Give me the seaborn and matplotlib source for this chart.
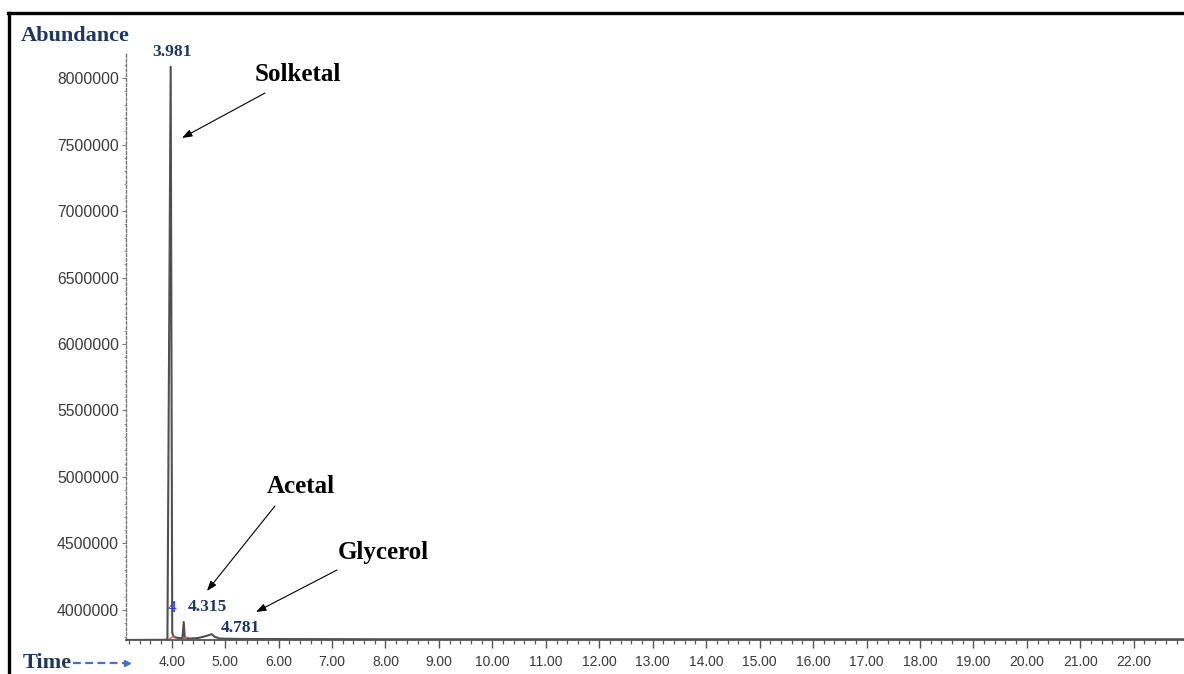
import matplotlib
matplotlib.use("Agg")
import matplotlib.pyplot as plt
from matplotlib.lines import Line2D
from matplotlib.ticker import MultipleLocator, FuncFormatter
import seaborn as sns
import pandas as pd

# Total ion chromatogram trace (retention time in min, abundance)
time_min = [3.145, 3.90, 3.92, 3.981, 4.01, 4.03, 4.06, 4.12, 4.20, 4.225, 4.245,
            4.35, 4.50, 4.65, 4.75, 4.80, 4.90, 5.30, 8.00, 22.94]
abundance = [3774500, 3776000, 3790000, 8085000, 3830000, 3805000, 3795000, 3790000,
             3788000, 3910000, 3790000, 3785000, 3790000, 3805000, 3818000, 3800000,
             3785000, 3782000, 3780000, 3780000]

# Integration baselines (red) drawn under the first two peaks
base1_t = [3.875, 4.06]
base1_y = [3767000, 3804000]
base2_t = [4.205, 4.30]
base2_y = [3782000, 3797000]

# Peak retention-time labels
peak_labels = ["3.981", "4.315", "4.781"]
peak_label_t = [4.00, 4.66, 5.277]
peak_label_y = [8196000, 4022000, 3865000]

# Compound annotations: name, text position, arrow tail, arrow head
compounds = ["Solketal", "Acetal", "Glycerol"]
comp_text_t = [6.363, 6.419, 7.954]
comp_text_y = [8030000, 4925000, 4429000]
arrow_tail_t = [5.745, 5.932, 7.094]
arrow_tail_y = [7887000, 4782000, 4301000]
arrow_head_t = [4.193, 4.66, 5.577]
arrow_head_y = [7549000, 4143000, 3985000]

y_ticks = [4000000, 4500000, 5000000, 5500000, 6000000, 6500000, 7000000, 7500000, 8000000]
x_ticks = [4.0, 5.0, 6.0, 7.0, 8.0, 9.0, 10.0, 11.0, 12.0, 13.0, 14.0, 15.0,
           16.0, 17.0, 18.0, 19.0, 20.0, 21.0, 22.0]

sns.set_style("white")
plt.rcParams["font.family"] = ["Liberation Sans", "DejaVu Sans"]

NAVY = "#1c3766"
SERIF = ["Liberation Serif", "DejaVu Serif"]

fig = plt.figure(figsize=(11.84, 6.74), dpi=100)
ax = fig.add_axes([126 / 1184, 1 - 640 / 674, 1 - 126 / 1184, (640 - 53) / 674])

df = pd.DataFrame({"time": time_min, "abundance": abundance})
sns.lineplot(data=df, x="time", y="abundance", ax=ax, color="#505050",
             linewidth=1.5, estimator=None, sort=False)
ax.plot(base1_t, base1_y, color="#e06666", lw=1.1, solid_capstyle="butt")
ax.plot(base2_t, base2_y, color="#e06666", lw=1.1, solid_capstyle="butt")

ax.set_xlim(3.145, 22.94)
ax.set_ylim(3774400, 8188000)
ax.set_xlabel("")
ax.set_ylabel("")

ax.set_xticks(x_ticks)
ax.xaxis.set_minor_locator(MultipleLocator(0.2))
ax.xaxis.set_major_formatter(FuncFormatter(lambda v, p: f"{v:.2f}"))
ax.set_yticks(y_ticks)
ax.yaxis.set_minor_locator(MultipleLocator(100000))
ax.yaxis.set_major_formatter(FuncFormatter(lambda v, p: f"{int(v)}"))

ax.tick_params(axis="x", which="major", direction="out", length=6, width=1,
               color="#555555", labelsize=10, labelcolor="#3a3a3a", pad=5)
ax.tick_params(axis="x", which="minor", direction="out", length=3, width=0.9,
               color="#555555")
ax.tick_params(axis="y", which="major", direction="out", length=3, width=0.8,
               color="#777777", labelsize=11.3, labelcolor="#3a3a3a", pad=2)
ax.tick_params(axis="y", which="minor", direction="out", length=1.5, width=0.6,
               color="#888888")
ax.tick_params(bottom=True, left=True, which="both")

for side in ("top", "right"):
    ax.spines[side].set_visible(False)
ax.spines["bottom"].set_color("#555555")
ax.spines["bottom"].set_linewidth(1.3)
ax.spines["left"].set_color("#777777")
ax.spines["left"].set_linewidth(1.0)
ax.spines["left"].set_linestyle((0, (2, 1.5)))

# Peak labels
for lab, t, y in zip(peak_labels, peak_label_t, peak_label_y):
    ax.text(t, y, lab, ha="center", va="center", family=SERIF, fontweight="bold",
            fontsize=12.5, color=NAVY, clip_on=False)
ax.text(4.006, 4015000, "4", ha="center", va="center", family=SERIF,
        fontsize=12.5, color="#2a2aff")

# Compound names with arrows
for name, tx, ty, t0, y0, t1, y1 in zip(compounds, comp_text_t, comp_text_y,
                                        arrow_tail_t, arrow_tail_y,
                                        arrow_head_t, arrow_head_y):
    ax.text(tx, ty, name, ha="center", va="center", family=SERIF,
            fontweight="bold", fontsize=18, color="black")
    ax.annotate("", xy=(t1, y1), xytext=(t0, y0),
                arrowprops=dict(arrowstyle="-|>,head_length=0.6,head_width=0.22",
                                color="black", lw=0.8, shrinkA=0, shrinkB=0))

# Axis titles
fig.text(75 / 1184, 1 - 36 / 674, "Abundance", ha="center", va="center",
         family=SERIF, fontweight="bold", fontsize=16, color=NAVY)
fig.text(47 / 1184, 1 - 663 / 674, "Time", ha="center", va="center",
         family=SERIF, fontweight="bold", fontsize=16, color=NAVY)
fig.add_artist(Line2D([73 / 1184, 124 / 1184], [1 - 663 / 674, 1 - 663 / 674],
                      transform=fig.transFigure, color="#4472c4", lw=1.6,
                      linestyle=(0, (3.5, 2))))
fig.add_artist(Line2D([127 / 1184], [1 - 663 / 674], transform=fig.transFigure,
                      marker=">", markersize=5, color="#4472c4", lw=0))

# Outer frame
fig.add_artist(Line2D([8 / 1184, 1.0], [1 - 13 / 674, 1 - 13 / 674],
                      transform=fig.transFigure, color="black", lw=2.4,
                      solid_capstyle="projecting"))
fig.add_artist(Line2D([9 / 1184, 9 / 1184], [1 - 13 / 674, 0.0],
                      transform=fig.transFigure, color="black", lw=2.4,
                      solid_capstyle="projecting"))

fig.savefig("out.png", dpi=100)
